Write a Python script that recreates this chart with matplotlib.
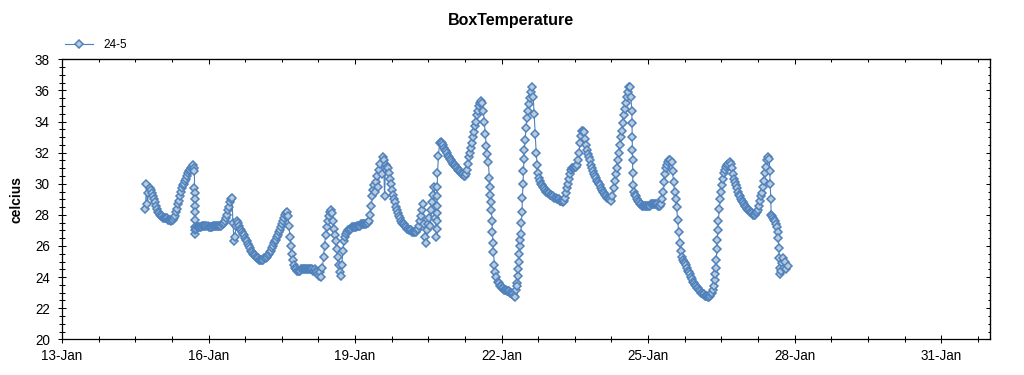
import numpy as np
import matplotlib
matplotlib.use('Agg')
import matplotlib.pyplot as plt
import matplotlib.dates as mdates
from matplotlib.ticker import FixedLocator, MultipleLocator
from datetime import datetime

# box temperature, one reading every 30 min, each list starts at the hour given in day_start
# (hours counted from 14-Jan 00:00)
jan14 = [28.4, 30.0, 28.7, 29.4, 29.7, 29.6, 29.4, 29.2, 29.0, 28.8, 28.6, 28.4, 28.2, 28.1]
jan15 = [28.0, 27.9, 27.9, 27.8, 27.8, 27.8, 27.8, 27.8, 27.7, 27.7, 27.7, 27.6,
         27.7, 27.7, 27.8, 27.9, 28.2, 28.4, 28.7, 28.9, 29.2, 29.5, 29.7, 29.9,
         30.0, 30.2, 30.3, 30.5, 30.7, 30.8, 30.9, 31.0, 31.1, 31.2, 31.0, 27.0,
         27.1, 27.2, 27.2, 27.2, 27.2, 27.2, 27.3, 27.3, 27.3, 27.3, 27.3, 27.3]
jan16 = [27.2, 27.2, 27.2, 27.2, 27.3, 27.3, 27.3, 27.3, 27.3, 27.3, 27.3, 27.3,
         27.3, 27.4, 27.4, 27.5, 27.6, 27.8, 28.0, 28.3, 28.5, 28.8, 29.0, 29.1,
         27.5, 26.3, 26.6, 27.3, 27.6, 27.5, 27.3, 27.1, 27.0, 26.9, 26.8, 26.7,
         26.5, 26.4, 26.3, 26.1, 26.0, 25.9, 25.7, 25.6, 25.5, 25.4, 25.4, 25.3]
jan17 = [25.2, 25.2, 25.1, 25.1, 25.1, 25.1, 25.1, 25.2, 25.2, 25.3, 25.4, 25.5,
         25.6, 25.7, 25.9, 26.0, 26.2, 26.3, 26.4, 26.6, 26.7, 26.9, 27.0, 27.2,
         27.4, 27.6, 27.8, 28.0, 28.1, 28.2, 27.9, 27.3, 26.6, 26.0, 25.5, 25.1,
         24.8, 24.6, 24.5, 24.4, 24.4, 24.4, 24.4, 24.5, 24.5, 24.5, 24.5, 24.5]
jan18 = [24.5, 24.5, 24.5, 24.5, 24.5, 24.5, 24.5, 24.4, 24.4, 24.5, 24.4, 24.3,
         24.2, 24.1, 24.3, 24.0, 24.6, 25.3, 26.0, 26.7, 27.2, 27.6, 27.9, 28.2,
         28.3, 28.1, 27.6, 27.1, 26.7, 26.3, 25.8, 25.3, 24.8, 24.3, 24.1, 24.8,
         25.7, 26.3, 26.6, 26.8, 26.9, 27.0, 27.0, 27.1, 27.1, 27.2, 27.2, 27.2]
jan19 = [27.2, 27.2, 27.3, 27.3, 27.3, 27.3, 27.4, 27.4, 27.4, 27.4, 27.4, 27.4,
         27.5, 27.5, 27.6, 28.0, 28.6, 29.2, 29.6, 29.9, 29.5, 30.1, 30.5, 29.8,
         30.9, 31.3, 30.6, 31.7, 31.5, 29.2, 31.2, 31.1, 31.0, 30.7, 30.3, 30.0,
         29.6, 29.3, 29.0, 28.8, 28.5, 28.3, 28.1, 27.9, 27.8, 27.6, 27.5, 27.4]
jan20 = [27.4, 27.3, 27.2, 27.1, 27.1, 27.0, 27.0, 27.0, 26.9, 26.9, 26.9, 26.9,
         26.9, 27.0, 27.1, 27.3, 27.6, 27.9, 28.3, 28.7, 27.4, 26.6, 26.2, 27.0,
         27.4, 27.8, 27.3, 28.3, 28.8, 29.3, 29.8, 27.8, 26.6, 30.7, 31.8, 32.6,
         32.7, 32.6, 32.5, 32.3, 32.2, 32.1, 32.0, 31.8, 31.7, 31.6, 31.5, 31.4]
jan21 = [31.3, 31.2, 31.2, 31.1, 31.0, 30.9, 30.8, 30.8, 30.7, 30.6, 30.6, 30.5,
         30.5, 30.6, 30.9, 31.3, 31.7, 32.0, 32.3, 32.6, 33.0, 33.3, 33.7, 34.0,
         34.4, 34.7, 35.0, 35.2, 35.3, 35.2, 34.7, 34.0, 33.2, 32.4, 31.9, 31.4,
         30.4, 29.3, 28.3, 26.9, 25.6, 24.8, 24.3, 24.0, 23.7, 23.6, 23.4, 23.4]
jan22 = [23.3, 23.3, 23.2, 23.2, 23.2, 23.1, 23.1, 23.1, 23.0, 23.0, 22.9, 22.9,
         22.8, 22.7, 23.2, 23.6, 24.1, 25.0, 26.0, 26.8, 28.2, 30.0, 31.6, 32.8,
         33.6, 34.2, 34.7, 35.1, 35.5, 35.9, 36.2, 35.6, 34.5, 33.2, 32.0, 31.2,
         30.7, 30.4, 30.2, 30.0, 29.9, 29.8, 29.7, 29.6, 29.5, 29.5, 29.4, 29.4]
jan23 = [29.3, 29.3, 29.2, 29.2, 29.1, 29.1, 29.0, 29.0, 29.0, 28.9, 28.9, 28.9,
         28.8, 28.9, 29.1, 29.4, 29.7, 30.0, 30.3, 30.6, 30.9, 31.0, 31.0, 31.0,
         31.1, 31.1, 31.2, 31.5, 32.0, 32.6, 33.1, 33.4, 33.4, 33.3, 32.9, 32.5,
         32.2, 31.9, 31.7, 31.5, 31.2, 31.0, 30.8, 30.6, 30.5, 30.4, 30.2, 30.1]
jan24 = [30.0, 29.9, 29.7, 29.6, 29.5, 29.4, 29.3, 29.2, 29.1, 29.1, 29.0, 29.0,
         28.9, 29.2, 29.7, 30.2, 30.6, 31.0, 31.5, 32.0, 32.5, 33.0, 33.4, 33.9,
         34.4, 34.8, 35.2, 35.6, 35.9, 36.2, 36.2, 35.6, 34.7, 29.9, 29.5, 29.3,
         29.2, 29.0, 28.9, 28.8, 28.7, 28.7, 28.6, 28.6, 28.6, 28.6, 28.6, 28.6]
jan25 = [28.6, 28.6, 28.6, 28.7, 28.7, 28.7, 28.7, 28.7, 28.7, 28.7, 28.6, 28.6,
         28.6, 28.7, 29.0, 29.5, 30.1, 30.6, 31.0, 31.2, 31.4, 31.5, 31.5, 31.4,
         30.8, 30.1, 29.5, 29.0, 28.5, 27.7, 26.9, 26.2, 25.7, 25.3, 25.1, 25.0,
         24.9, 24.8, 24.6, 24.4, 24.3, 24.2, 24.0, 23.9, 23.7, 23.6, 23.5, 23.4]
jan26 = [23.3, 23.3, 23.2, 23.1, 23.0, 23.0, 22.9, 22.9, 22.8, 22.8, 22.8, 22.7,
         22.7, 22.8, 22.9, 23.0, 23.2, 23.4, 24.2, 25.1, 26.4, 27.6, 28.4, 29.0,
         29.5, 29.9, 30.3, 30.7, 30.9, 31.1, 31.2, 31.3, 31.4, 31.3, 31.0, 30.6,
         30.3, 30.1, 29.9, 29.7, 29.5, 29.3, 29.2, 29.0, 28.9, 28.8, 28.7, 28.6]
jan27 = [28.5, 28.4, 28.3, 28.3, 28.2, 28.2, 28.1, 28.0, 28.0, 28.0, 28.1, 28.2,
         28.3, 28.6, 28.9, 29.2, 29.4, 29.8, 30.2, 30.7, 31.1, 31.5, 31.7, 31.6,
         30.0, 28.0, 27.9, 27.8, 27.7, 27.6, 27.4, 27.2, 26.5, 25.2, 24.2, 24.4,
         24.9, 25.2, 24.6, 25.0, 24.5, 24.7]

day_start = [17, 24, 48, 72, 96, 120, 144, 168, 192, 216, 240, 264, 288, 312]
day_values = [jan14, jan15, jan16, jan17, jan18, jan19, jan20, jan21, jan22,
              jan23, jan24, jan25, jan26, jan27]

# extra readings in the fast rises / drops (hours from 14-Jan 00:00)
extra_hours = [41.05, 41.1, 41.15, 41.2, 41.25, 41.3, 41.35, 41.4, 41.45,
               160.07, 160.14, 160.21, 160.28, 160.35, 160.42,
               186.25, 186.75, 187.25, 187.75,
               199.75, 200.25, 200.75, 201.25, 201.75, 202.25, 202.75, 203.25,
               256.1, 256.2, 256.3, 256.4, 256.45,
               296.75, 297.25, 297.75, 298.25,
               323.75, 324.25, 327.75, 328.25, 328.75]
extra_temps = [30.8, 29.7, 29.4, 29.0, 28.6, 28.2, 27.7, 27.2, 26.8,
               27.1, 27.6, 28.1, 28.6, 29.2, 29.8,
               29.8, 28.8, 27.6, 26.2,
               23.4, 24.5, 25.5, 26.4, 27.5, 29.1, 30.8, 32.2,
               33.9, 33.0, 32.2, 31.5, 30.7,
               23.8, 24.6, 25.8, 27.0,
               30.8, 29.0, 26.9, 25.9, 24.6]

hours = list(extra_hours)
temps = list(extra_temps)
for start, vals in zip(day_start, day_values):
    for i, v in enumerate(vals):
        hours.append(start + 0.5 * i)
        temps.append(v)
hours = np.array(hours)
temps = np.array(temps)
order = np.argsort(hours, kind='stable')
base = mdates.date2num(datetime(2014, 1, 14))
x = base + hours[order] / 24.0
y = temps[order]

plt.rcParams['font.family'] = ['Liberation Sans', 'DejaVu Sans']

fig = plt.figure(figsize=(10.24, 3.75), dpi=100)
ax = fig.add_axes([62 / 1024, (375 - 339.3) / 375, (990 - 62) / 1024, 280 / 375])

blue = '#4F81BD'
ax.plot(x, y, color=blue, lw=0.8, marker='D', markersize=4.0,
        markerfacecolor='#BACCDC', markeredgecolor=blue, markeredgewidth=1.1,
        label='24-5')

x0 = mdates.date2num(datetime(2014, 1, 13))
major_x = [x0 + 3 * k for k in range(7)]
minor_x = [x0 + 0.75 * k for k in range(26)]
ax.set_xlim(x0, x0 + 19)
ax.set_ylim(20, 38)
ax.xaxis.set_major_locator(FixedLocator(major_x))
ax.xaxis.set_minor_locator(FixedLocator(minor_x))
ax.xaxis.set_major_formatter(mdates.DateFormatter('%d-%b'))
ax.yaxis.set_major_locator(MultipleLocator(2))
ax.yaxis.set_minor_locator(MultipleLocator(0.5))

ax.tick_params(which='major', direction='inout', length=5.5, width=0.75,
               labelsize=9.75, top=False, right=False)
ax.tick_params(which='minor', direction='inout', length=4.5, width=0.75,
               top=False, right=False)
ax.tick_params(axis='y', pad=6)
ax.tick_params(axis='x', pad=4)
for s in ax.spines.values():
    s.set_linewidth(0.9)

# inward ticks on top and right
top = ax.secondary_xaxis('top')
top.xaxis.set_major_locator(FixedLocator(major_x))
top.xaxis.set_minor_locator(FixedLocator(minor_x))
top.tick_params(which='major', direction='in', length=3.6, width=0.75, labeltop=False)
top.tick_params(which='minor', direction='in', length=2.2, width=0.75)
right = ax.secondary_yaxis('right')
right.yaxis.set_major_locator(MultipleLocator(2))
right.yaxis.set_minor_locator(MultipleLocator(0.5))
right.tick_params(which='major', direction='in', length=3.0, width=0.75, labelright=False)
right.tick_params(which='minor', direction='in', length=1.8, width=0.75)

ax.set_ylabel('celcius', fontsize=10, fontweight='bold')
ax.yaxis.set_label_coords(-0.041, 0.5)

fig.text(510.7 / 1024, 1 - 25 / 375, 'BoxTemperature', ha='center', va='baseline',
         fontsize=11.5, fontweight='bold')

ax.legend(loc='center left', bbox_to_anchor=(65 / 1024, 1 - 45 / 375),
          bbox_transform=fig.transFigure, frameon=False, fontsize=8.5,
          borderpad=0, borderaxespad=0, handlelength=2.4, handletextpad=0.85)

fig.savefig('out.png', dpi=100)
